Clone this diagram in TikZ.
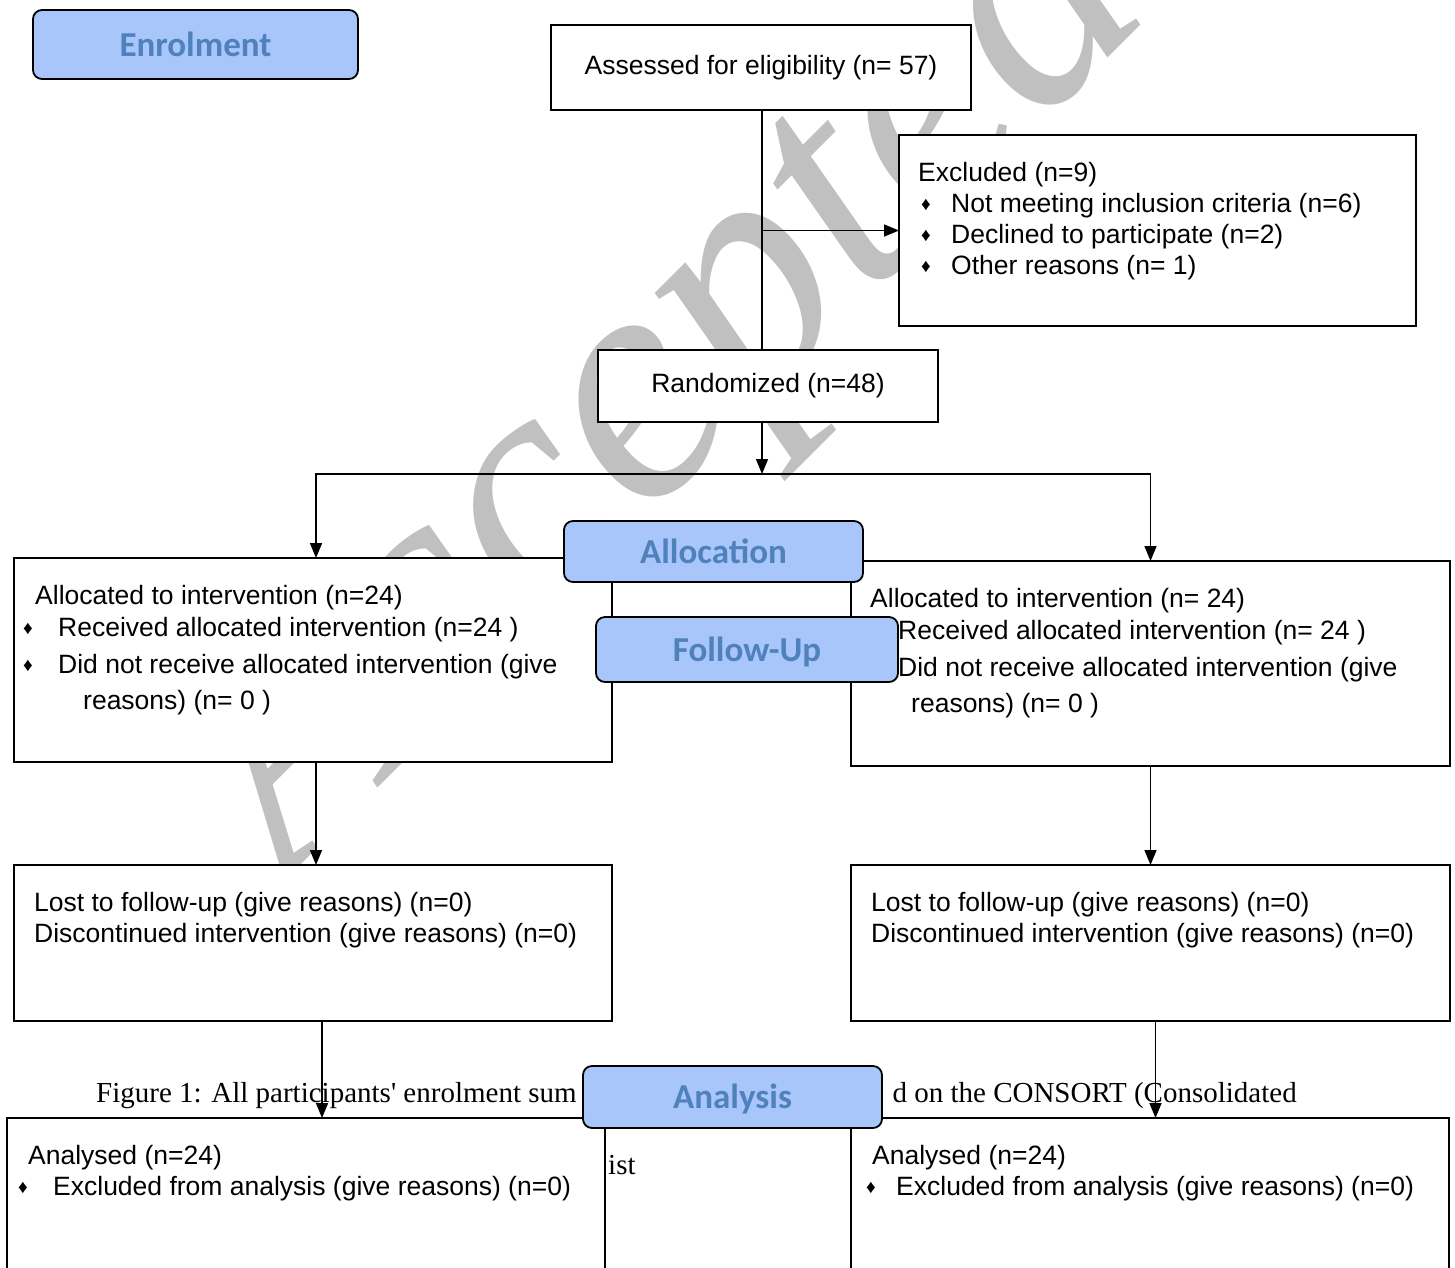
\documentclass[tikz,border=0pt]{standalone}
\usepackage{fontspec}
\setmainfont{Liberation Sans}
\newfontfamily\capfont{Liberation Serif}[Ligatures=TeXOff]
\newfontfamily\calfont{Carlito}
\usetikzlibrary{arrows.meta, calc}

\definecolor{lblfill}{RGB}{168,198,250}
\definecolor{lbltext}{RGB}{79,129,189}
\definecolor{wmgray}{RGB}{192,192,192}

\newcommand{\bul}{\raisebox{2pt}{\fontsize{19}{19}\selectfont\char"2666}}
\newcommand{\bitem}[2]{\makebox[#2][l]{\hspace*{#1}\bul}}

\tikzset{
  box/.style={draw, line width=1.8pt, fill=white, inner sep=0pt, outer sep=0pt,
    font=\fontsize{26.5}{31}\selectfont},
  lbl/.style={draw, line width=1.8pt, fill=lblfill, rounded corners=9pt, inner sep=0pt,
    text=lbltext, text height=23pt, text depth=0pt,
    font=\calfont\bfseries\fontsize{35}{35}\selectfont},
  txt/.style={anchor=north west, inner sep=0pt, align=left,
    font=\fontsize{26.5}{31}\selectfont},
  captxt/.style={inner sep=0pt, font=\capfont\fontsize{29}{29}\selectfont},
  conn/.style={line width=1.6pt},
  arr/.style={line width=1.6pt, -{Triangle[length=15pt, width=12pt]}},
}

\begin{document}
\begin{tikzpicture}[x=1pt, y=-1pt]
    \useasboundingbox (0,0) rectangle (1455,1267);
    \clip (0,0) rectangle (1455,1267);
    % Watermark
    \node [anchor=base west, rotate=45, inner sep=0pt, text=wmgray,
      font=\capfont\itshape\fontsize{335}{335}\selectfont] (wmark) at (288,878) {Accepted};
    % Caption lying under the boxes
    \node [captxt, anchor=base west] (cap1) at (96,1102) {Figure 1: All participants' enrolment sum};
    \node [captxt, anchor=base east] (cap2) at (1297,1102) {d on the CONSORT (Consolidated};
    \node [captxt, anchor=base west] (cap3) at (608,1174) {ist};

    % Enrolment
    \node [box, minimum width=420pt, minimum height=85pt] (assess) at (761,67.5) {Assessed for eligibility (n= 57)};
    \node [box, minimum width=517pt, minimum height=191pt] (excl) at (1157.5,230.5) {};
    \node [txt] (excl-t) at (918,162) {Excluded (n=9)\\
      \bitem{3pt}{33pt}Not meeting inclusion criteria (n=6)\\
      \bitem{3pt}{33pt}Declined to participate (n=2)\\
      \bitem{3pt}{33pt}Other reasons (n= 1)};
    \node [box, minimum width=340pt, minimum height=72pt] (rand) at (768,386) {Randomized (n=48)};

    % Allocation
    \node [box, minimum width=598pt, minimum height=204pt] (alloc1) at (313,660) {};
    \node [txt] (alloc1-t) at (23,585) {\hspace*{12pt}Allocated to intervention (n=24)\\[1pt]
      \bitem{0pt}{35pt}Received allocated intervention (n=24 )\\[6pt]
      \bitem{0pt}{35pt}Did not receive allocated intervention (give\\[5pt]
      \hspace*{60pt}reasons) (n= 0 )};
    \node [box, minimum width=599pt, minimum height=205pt] (alloc2) at (1150.5,663.5) {};
    \node [txt] (alloc2-t) at (859,588) {\hspace*{11pt}Allocated to intervention (n= 24)\\[1pt]
      \bitem{4pt}{39pt}Received allocated intervention (n= 24 )\\[6pt]
      \bitem{4pt}{39pt}Did not receive allocated intervention (give\\[5pt]
      \hspace*{52pt}reasons) (n= 0 )};

    % Follow-up
    \node [box, minimum width=598pt, minimum height=156pt] (lost1) at (313,943) {};
    \node [txt] (lost1-t) at (34,892) {Lost to follow-up (give reasons) (n=0)\\
      Discontinued intervention (give reasons) (n=0)};
    \node [box, minimum width=599pt, minimum height=156pt] (lost2) at (1150.5,943) {};
    \node [txt] (lost2-t) at (871,892) {Lost to follow-up (give reasons) (n=0)\\
      Discontinued intervention (give reasons) (n=0)};

    % Analysis
    \node [box, minimum width=598pt, minimum height=182pt] (anal1) at (306,1209) {};
    \node [txt] (anal1-t) at (18,1145) {\hspace*{10pt}Analysed (n=24)\\
      \bitem{0pt}{35pt}Excluded from analysis (give reasons) (n=0)};
    \node [box, minimum width=598pt, minimum height=182pt] (anal2) at (1150,1209) {};
    \node [txt] (anal2-t) at (866,1145) {\hspace*{6pt}Analysed (n=24)\\
      \bitem{0pt}{30pt}Excluded from analysis (give reasons) (n=0)};

    % Connectors
    \coordinate (split) at (762,474);
    \draw [conn] (assess.south -| split) -- (rand.north -| split);
    \draw [arr] (split |- excl.west) -- (excl.west);
    \draw [arr] (rand.south -| split) -- (split);
    \draw [arr] (split) -| ([xshift=3pt]alloc1.north);
    \draw [arr] (split) -| (alloc2.north);
    \draw [arr] ([xshift=3pt]alloc1.south) -- ([xshift=3pt]lost1.north);
    \draw [arr] (alloc2.south) -- (lost2.north);
    \draw [arr] ([xshift=9pt]lost1.south) -- ([xshift=9pt]lost1.south |- anal1.north);
    \draw [arr] ([xshift=5pt]lost2.south) -- ([xshift=5pt]lost2.south |- anal2.north);

    % Stage labels
    \node [lbl, minimum width=325pt, minimum height=69pt] (enrol) at (195.5,44.5) {Enrolment};
    \node [lbl, minimum width=299pt, minimum height=61pt] (allocl) at (713.5,551.5) {Allocation};
    \node [lbl, minimum width=302pt, minimum height=65pt] (follow) at (747,649.5) {Follow-Up};
    \node [lbl, minimum width=299pt, minimum height=62pt] (anall) at (732.5,1097) {Analysis};
\end{tikzpicture}
\end{document}
